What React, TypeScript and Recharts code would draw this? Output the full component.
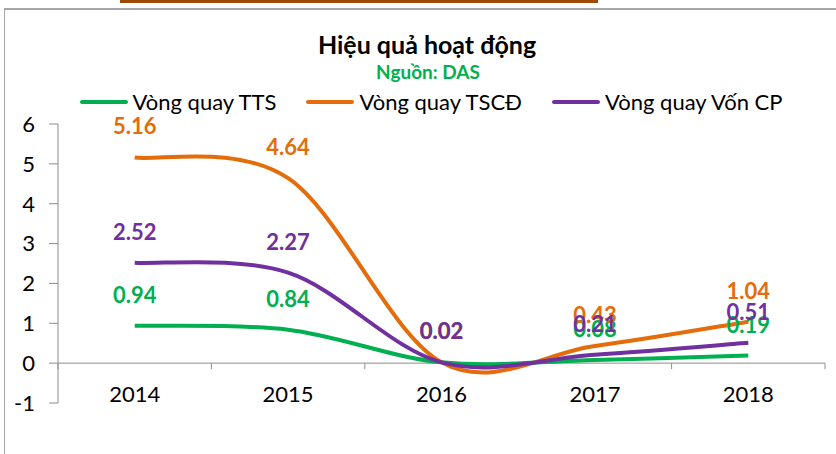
import { LineChart, Line, XAxis, YAxis, LabelList, ReferenceLine } from "recharts";

const YEARS = ["2014", "2015", "2016", "2017", "2018"];
const VONG_QUAY_TTS = [0.94, 0.84, 0.02, 0.08, 0.19];
const VONG_QUAY_TSCD = [5.16, 4.64, 0.02, 0.43, 1.04];
const VONG_QUAY_VON_CP = [2.52, 2.27, 0.02, 0.21, 0.51];
const Y_TICKS = [-1, 0, 1, 2, 3, 4, 5, 6];

const GREEN = "#00b050";
const ORANGE = "#e46c0a";
const PURPLE = "#7030a0";
const AXIS = "#8c8c8c";
const FONT = "Lato, 'Noto Sans', sans-serif";

const SERIES = [
  { key: "tts", name: "Vòng quay TTS", color: GREEN },
  { key: "tscd", name: "Vòng quay TSCĐ", color: ORANGE },
  { key: "von", name: "Vòng quay Vốn CP", color: PURPLE },
];

const data = YEARS.map((year, i) => ({
  year,
  tts: VONG_QUAY_TTS[i],
  tscd: VONG_QUAY_TSCD[i],
  von: VONG_QUAY_VON_CP[i],
}));

// Excel-style smoothing: Catmull-Rom bezier, control points at p + (next - prev) / 6
function excelSmooth(context: any) {
  let pts: [number, number][] = [];
  return {
    areaStart() {},
    areaEnd() {},
    lineStart() {
      pts = [];
    },
    point(x: number, y: number) {
      pts.push([+x, +y]);
    },
    lineEnd() {
      if (!pts.length) return;
      context.moveTo(pts[0][0], pts[0][1]);
      for (let i = 0; i < pts.length - 1; i++) {
        const p0 = pts[i - 1] ?? pts[i];
        const p1 = pts[i];
        const p2 = pts[i + 1];
        const p3 = pts[i + 2] ?? pts[i + 1];
        context.bezierCurveTo(
          p1[0] + (p2[0] - p0[0]) / 6,
          p1[1] + (p2[1] - p0[1]) / 6,
          p2[0] - (p3[0] - p1[0]) / 6,
          p2[1] - (p3[1] - p1[1]) / 6,
          p2[0],
          p2[1],
        );
      }
    },
  };
}

function ZeroAxis(props: any) {
  const { x1, y1, x2, y2 } = props;
  const step = (x2 - x1) / YEARS.length;
  return (
    <g>
      <line x1={x1} y1={y1} x2={x2} y2={y2} stroke={AXIS} strokeWidth={1} />
      {Array.from({ length: YEARS.length + 1 }, (_, i) => (
        <line
          key={i}
          x1={x1 + step * i}
          y1={y1}
          x2={x1 + step * i}
          y2={y1 + 6}
          stroke={AXIS}
          strokeWidth={1}
        />
      ))}
    </g>
  );
}

function YearTick({ x, y, payload }: any) {
  return (
    <text
      x={x}
      y={y}
      dy={-9}
      textAnchor="middle"
      fontSize={22}
      fontFamily={FONT}
      fill="#000"
    >
      {payload.value}
    </text>
  );
}

function LegendRow() {
  return (
    <div
      style={{
        position: "absolute",
        left: 0,
        top: 88,
        width: 862,
        display: "flex",
        justifyContent: "center",
        gap: 30,
        fontFamily: FONT,
        fontSize: 22,
        color: "#000",
      }}
    >
      {SERIES.map((s) => (
        <span key={s.key} style={{ display: "flex", alignItems: "center", gap: 5 }}>
          <span
            style={{
              display: "inline-block",
              width: 48,
              height: 4,
              borderRadius: 2,
              background: s.color,
            }}
          />
          {s.name}
        </span>
      ))}
    </div>
  );
}

export default function App() {
  return (
    <div
      style={{
        position: "absolute",
        left: 0,
        top: 0,
        width: 836,
        height: 454,
        background: "#fff",
        overflow: "hidden",
      }}
    >
      <div
        style={{
          position: "absolute",
          left: 120,
          top: 0,
          width: 478,
          height: 3,
          background: "#9c4a06",
        }}
      />
      <div
        style={{
          position: "absolute",
          left: 4,
          top: 8,
          width: 900,
          height: 500,
          borderTop: "2px solid #a6a6a6",
          borderLeft: "1px solid #a6a6a6",
        }}
      />
      <div
        style={{
          position: "absolute",
          left: 0,
          top: 29,
          width: 854,
          textAlign: "center",
          fontFamily: FONT,
          fontWeight: 700,
          fontSize: 25,
          color: "#000",
        }}
      >
        Hiệu quả hoạt động
      </div>
      <div
        style={{
          position: "absolute",
          left: 0,
          top: 60,
          width: 856,
          textAlign: "center",
          fontFamily: FONT,
          fontWeight: 700,
          fontSize: 19,
          color: GREEN,
        }}
      >
        Nguồn: DAS
      </div>
      <LegendRow />
      <LineChart
        width={836}
        height={454}
        data={data}
        margin={{ top: 124, right: 11, bottom: 21, left: 8 }}
        style={{ position: "absolute", left: 0, top: 0 }}
      >
        <XAxis
          dataKey="year"
          scale="band"
          axisLine={false}
          tickLine={false}
          tick={<YearTick />}
          height={30}
        />
        <YAxis
          domain={[-1, 6]}
          ticks={Y_TICKS}
          interval={0}
          width={50}
          axisLine={{ stroke: AXIS }}
          tickLine={{ stroke: AXIS }}
          tickSize={9}
          tickMargin={14}
          tick={{ fontSize: 22, fill: "#000", fontFamily: FONT }}
        />
        <ReferenceLine y={0} shape={<ZeroAxis />} />
        {SERIES.map((s) => (
          <Line
            key={s.key}
            dataKey={s.key}
            name={s.name}
            type={excelSmooth as any}
            stroke={s.color}
            strokeWidth={4}
            dot={false}
            activeDot={false}
            isAnimationActive={false}
          >
            <LabelList
              dataKey={s.key}
              position="top"
              offset={23}
              fill={s.color}
              fontSize={22}
              fontWeight={700}
              fontFamily={FONT}
              formatter={(v: any) => Number(v).toFixed(2)}
            />
          </Line>
        ))}
      </LineChart>
    </div>
  );
}
